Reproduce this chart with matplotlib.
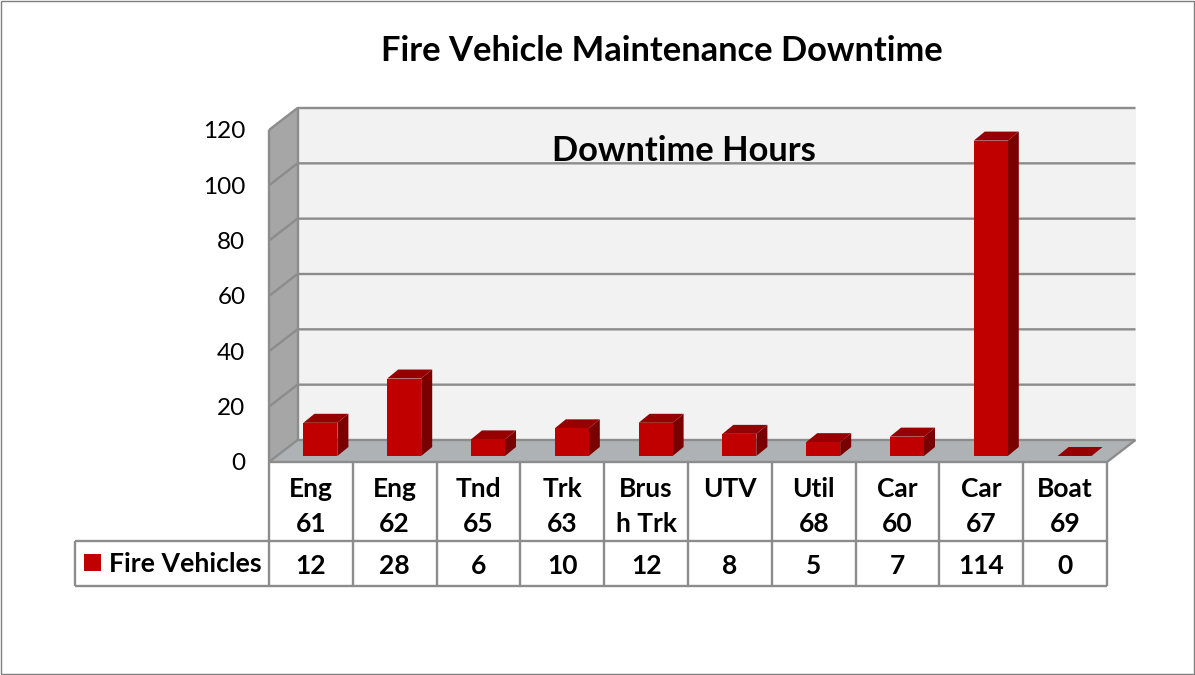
#!/usr/bin/env python3
"""Fire vehicle downtime: Excel style 3D column chart with a data table."""

import matplotlib
matplotlib.use('Agg')
import matplotlib.pyplot as plt
from matplotlib.patches import Polygon, Rectangle

categories = ['Eng\n61', 'Eng\n62', 'Tnd\n65', 'Trk\n63', 'Brus\nh Trk',
              'UTV\n ', 'Util\n68', 'Car\n60', 'Car\n67', 'Boat\n69']
downtime = [12, 28, 6, 10, 12, 8, 5, 7, 114, 0]
y_ticks = [0, 20, 40, 60, 80, 100, 120]
series_name = 'Fire Vehicles'

W, H = 1195, 675
PLOT_L, PLOT_R, PLOT_T, PLOT_B = 269, 1107, 130, 462
PX_X = (PLOT_R - PLOT_L) / len(categories)
PX_Y = (PLOT_B - PLOT_T) / 120

# 3D shear of the floor and of the bars, px converted to data units
DEPTH_X, DEPTH_Y = 28.5 / PX_X, 22 / PX_Y
BAR_X, BAR_Y = 9.5 / PX_X, 6 / PX_Y
BAR_W = 34 / PX_X
BAR_DX, BAR_DY = 11 / PX_X, 9 / PX_Y

EDGE = '#8c8c8c'
LABEL_SIZE = 19
LINE_W = 1.7
plt.rcParams['font.family'] = ['Lato', 'DejaVu Sans']

fig = plt.figure(figsize=(W / 100, H / 100), dpi=100)
fig.patches.append(Rectangle((0.5 / W, 1.5 / H), (W - 1.5) / W, (H - 2.5) / H,
                             transform=fig.transFigure, fc='white', ec='#7f7f7f', lw=1.0, zorder=-1))
ax = fig.add_axes([PLOT_L / W, 1 - PLOT_B / H, (PLOT_R - PLOT_L) / W, (PLOT_B - PLOT_T) / H])
ax.patch.set_visible(False)
ax.set_xlim(-0.5, len(categories) - 0.5)
ax.set_ylim(0, 120)
for s in ax.spines.values():
    s.set_visible(False)

x0, x1 = -0.5, len(categories) - 0.5


def poly(pts, fc, ec='none', lw=0, z=1):
    ax.add_patch(Polygon(pts, closed=True, fc=fc, ec=ec, lw=lw, zorder=z, clip_on=False))


def seg(xs, ys, z=2, lw=LINE_W):
    ax.plot(xs, ys, color=EDGE, lw=lw, zorder=z, clip_on=False, solid_capstyle='butt')


# walls and floor
top, bot = y_ticks[-1], y_ticks[0]
poly([(x0 + DEPTH_X, bot + DEPTH_Y), (x1 + DEPTH_X, bot + DEPTH_Y),
      (x1 + DEPTH_X, top + DEPTH_Y), (x0 + DEPTH_X, top + DEPTH_Y)], '#f2f2f2')
poly([(x0, bot), (x0 + DEPTH_X, bot + DEPTH_Y), (x0 + DEPTH_X, top + DEPTH_Y), (x0, top)], '#a6a6a6')
poly([(x0, bot), (x1, bot), (x1 + DEPTH_X, bot + DEPTH_Y), (x0 + DEPTH_X, bot + DEPTH_Y)], '#afb2b5')

for t in y_ticks:
    seg([x0, x0 + DEPTH_X, x1 + DEPTH_X], [t, t + DEPTH_Y, t + DEPTH_Y])
seg([x0, x0], [bot, top])
seg([x0 + DEPTH_X, x0 + DEPTH_X], [bot + DEPTH_Y, top + DEPTH_Y])
seg([x0, x1, x1 + DEPTH_X], [bot, bot, bot + DEPTH_Y], z=3)

# columns
for i, v in enumerate(downtime):
    l = i + BAR_X - BAR_W / 2
    r = i + BAR_X + BAR_W / 2
    b = BAR_Y
    t = v + BAR_Y
    poly([(r, b), (r + BAR_DX, b + BAR_DY), (r + BAR_DX, t + BAR_DY), (r, t)], '#7a0000', z=4)
    poly([(l, t), (r, t), (r + BAR_DX, t + BAR_DY), (l + BAR_DX, t + BAR_DY)], '#960000', z=5)
    if v > 0:
        poly([(l, b), (r, b), (r, t), (l, t)], '#c00000', z=6)

# axis labels
ax.set_yticks(y_ticks)
ax.set_xticks(range(len(categories)))
ax.set_xticklabels(categories, fontsize=LABEL_SIZE, fontweight='bold', linespacing=1.52)
ax.tick_params(axis='x', length=0, pad=11)
ax.tick_params(axis='y', length=0, pad=17, labelsize=17.5)

# data table below the plot
row1 = -(541 - PLOT_B) / PX_Y
row2 = -(586 - PLOT_B) / PX_Y
legend_l = x0 - (PLOT_L - 75) / PX_X
seg([legend_l, x1], [row1, row1])
seg([legend_l, x1], [row2, row2])
seg([legend_l, legend_l], [row1, row2])
for i in range(len(categories) + 1):
    seg([x0 + i, x0 + i], [bot, row2])

for i, v in enumerate(downtime):
    ax.text(i, (row1 + row2) / 2, str(v), ha='center', va='center_baseline',
            fontsize=LABEL_SIZE, fontweight='bold', clip_on=False)

fig.patches.append(Rectangle((84 / W, 1 - 571 / H), 17 / W, 17 / H,
                             transform=fig.transFigure, fc='#c00000', ec='none', zorder=-1))
fig.text(109 / W, 1 - 562 / H, series_name, ha='left', va='center_baseline',
         fontsize=LABEL_SIZE + 0.2, fontweight='bold')

fig.text(662 / W, 1 - 51 / H, 'Fire Vehicle Maintenance Downtime', ha='center', va='center',
         fontsize=24.8, fontweight='bold')
fig.text(684 / W, 1 - 151 / H, 'Downtime Hours', ha='center', va='center',
         fontsize=24.8, fontweight='bold')

fig.savefig('out.png', dpi=100)
